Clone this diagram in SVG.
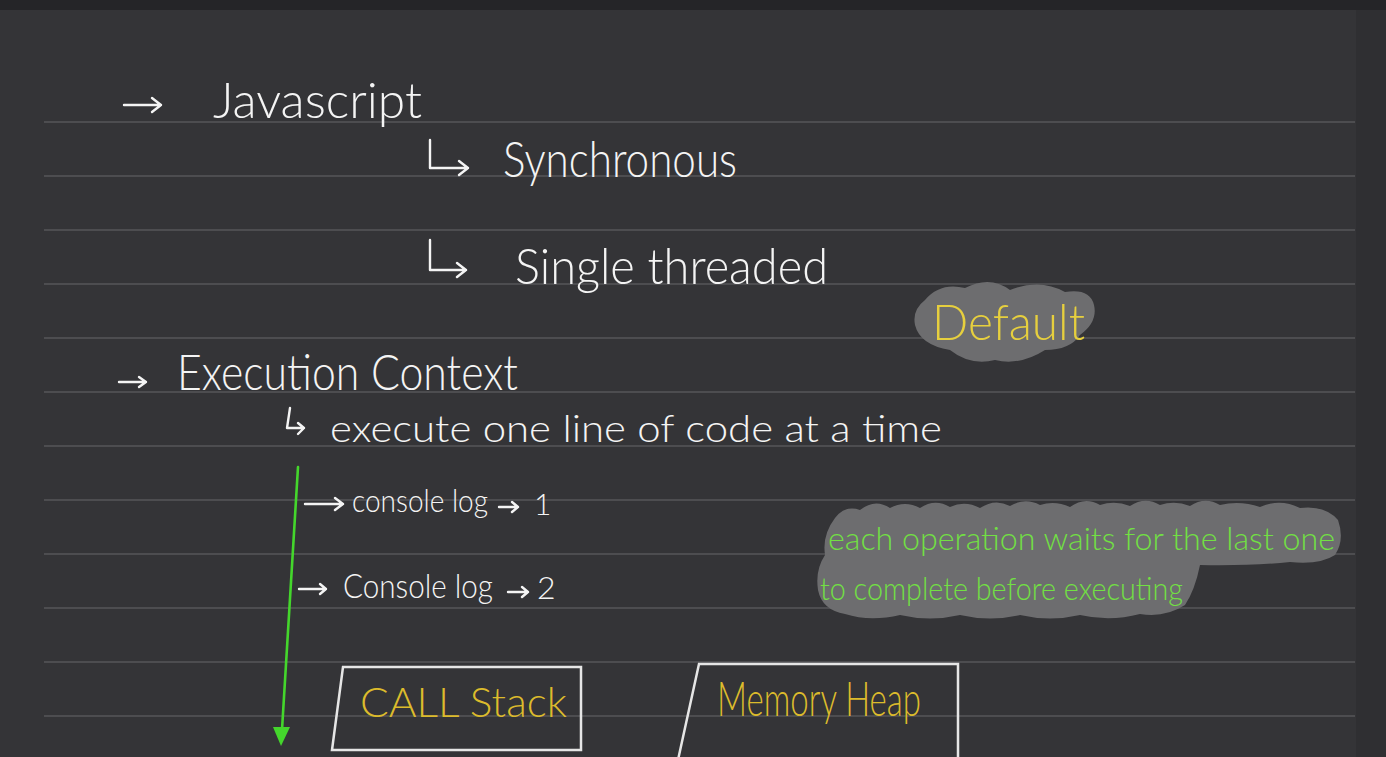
<svg xmlns="http://www.w3.org/2000/svg" width="1386" height="757" viewBox="0 0 1386 757">
<defs>
<style>
.bg{fill:#343437}
.rule{stroke:#4d4d50;stroke-width:2}
.w{fill:#f4f4f4;font-family:Lato,"Open Sans","Liberation Sans",sans-serif;font-weight:300}
.y{fill:#e6cf3e;font-family:Lato,"Open Sans","Liberation Sans",sans-serif;font-weight:300}
.yc{fill:#dcbb2c;font-family:Lato,"Open Sans","Liberation Sans",sans-serif;font-weight:300}
.g{fill:#72e043;font-family:Lato,"Open Sans","Liberation Sans",sans-serif;font-weight:300}
.arr{fill:none;stroke:#f4f4f4;stroke-width:2.4;stroke-linecap:round;stroke-linejoin:round}
.blob{fill:#6d6d6f}
.box{fill:none;stroke:#e6e6e6;stroke-width:2.5}
.flow{fill:none;stroke:#44d62c;stroke-width:2.6;stroke-linecap:round}
</style>
</defs>
<rect class="bg" x="0" y="0" width="1386" height="757"/>
<rect x="0" y="0" width="1386" height="10" fill="#252528"/>
<rect x="1356" y="10" width="30" height="747" fill="#2f2f32"/>
<g id="rules">
<line class="rule" x1="44" y1="122" x2="1355" y2="122"/>
<line class="rule" x1="44" y1="176" x2="1355" y2="176"/>
<line class="rule" x1="44" y1="230" x2="1355" y2="230"/>
<line class="rule" x1="44" y1="284" x2="1355" y2="284"/>
<line class="rule" x1="44" y1="338" x2="1355" y2="338"/>
<line class="rule" x1="44" y1="392" x2="1355" y2="392"/>
<line class="rule" x1="44" y1="446" x2="1355" y2="446"/>
<line class="rule" x1="44" y1="500" x2="1355" y2="500"/>
<line class="rule" x1="44" y1="554" x2="1355" y2="554"/>
<line class="rule" x1="44" y1="608" x2="1355" y2="608"/>
<line class="rule" x1="44" y1="662" x2="1355" y2="662"/>
<line class="rule" x1="44" y1="716" x2="1355" y2="716"/>
</g>
<g id="blobs">
<path class="blob" d="M925,300 Q940,282 965,288 Q990,275 1010,290 Q1040,278 1065,292 Q1090,288 1094,305 Q1098,322 1080,335 Q1070,350 1045,350 Q1020,366 995,360 Q970,366 950,350 Q920,345 915,325 Q912,310 925,300 Z"/>
<path class="blob" d="M835,518 Q845,505 860,510 Q875,498 890,508 Q905,500 920,508 Q935,498 950,507 Q965,500 980,508 Q995,498 1010,506 Q1025,497 1040,505 Q1055,500 1070,507 Q1085,496 1100,505 Q1115,500 1130,506 Q1145,496 1160,505 Q1175,500 1190,506 Q1205,496 1220,505 Q1240,500 1260,507 Q1280,498 1300,508 Q1325,505 1338,520 Q1345,540 1335,555 Q1320,565 1290,562 Q1250,566 1200,565 Q1195,590 1185,605 Q1165,618 1140,614 Q1110,622 1080,615 Q1050,622 1020,615 Q990,622 960,615 Q930,622 900,615 Q870,622 845,614 Q822,610 818,590 Q815,570 825,555 Q822,535 835,518 Z"/>
</g>
<g id="javascript">
<path class="arr" d="M124,105 L161,105 M152,98 L161,105 L152,112"/>
<text class="w" x="213" y="118" font-size="50" textLength="209" lengthAdjust="spacingAndGlyphs">Javascript</text>
</g>
<g id="synchronous">
<path class="arr" d="M430,140 L430,168 L468,168 M459,161 L468,168 L459,175"/>
<text class="w" x="503" y="177" font-size="50" textLength="234" lengthAdjust="spacingAndGlyphs">Synchronous</text>
</g>
<g id="single-threaded">
<path class="arr" d="M430,240 L430,270 L466,270 M457,263 L466,270 L457,277"/>
<text class="w" x="515" y="284" font-size="50" textLength="313" lengthAdjust="spacingAndGlyphs">Single threaded</text>
</g>
<g id="default">
<text class="y" x="932" y="340" font-size="50" textLength="153" lengthAdjust="spacingAndGlyphs">Default</text>
</g>
<g id="execution-context">
<path class="arr" d="M119,382 L146,382 M139,377 L146,382 L139,387"/>
<text class="w" x="177" y="390" font-size="50" textLength="341" lengthAdjust="spacingAndGlyphs">Execution Context</text>
</g>
<g id="execute-line">
<path class="arr" d="M290,408 L287,428 L304,428 M298,423 L304,428 L298,434"/>
<text class="w" x="330" y="442" font-size="38" textLength="612" lengthAdjust="spacingAndGlyphs">execute one line of code  at a time</text>
</g>
<g id="connectors">
<path class="flow" d="M298,467 L282,730"/>
<polygon points="273,727 290,727 281,746" fill="#44d62c"/>
</g>
<g id="console-log-1">
<path class="arr" d="M305,504 L343,504 M335,498 L343,504 L335,510"/>
<text class="w" x="352" y="512" font-size="32" textLength="136" lengthAdjust="spacingAndGlyphs">console log</text>
<path class="arr" d="M499,507 L518,507 M512,502 L518,507 L512,512"/>
<text class="w" x="534" y="515" font-size="30">1</text>
</g>
<g id="console-log-2">
<path class="arr" d="M299,589 L326,589 M320,584 L326,589 L320,594"/>
<text class="w" x="343" y="598" font-size="34" textLength="150" lengthAdjust="spacingAndGlyphs">Console log</text>
<path class="arr" d="M508,592 L528,592 M522,587 L528,592 L522,597"/>
<text class="w" x="537" y="599" font-size="32">2</text>
</g>
<g id="note">
<text class="g" x="828" y="550" font-size="31" textLength="507" lengthAdjust="spacingAndGlyphs">each operation waits for the last one</text>
<text class="g" x="820" y="600" font-size="31" textLength="363" lengthAdjust="spacingAndGlyphs">to complete before executing</text>
</g>
<g id="call-stack">
<path class="box" d="M343,667 L581,667 L581,750 L332,750 Z"/>
<text class="yc" x="360" y="717" font-size="42" textLength="207" lengthAdjust="spacingAndGlyphs">CALL Stack</text>
</g>
<g id="memory-heap">
<path class="box" d="M699,664 L958,664 L958,760 L678,760 Z"/>
<text class="yc" x="717" y="716" font-size="48" textLength="204" lengthAdjust="spacingAndGlyphs">Memory Heap</text>
</g>
</svg>
